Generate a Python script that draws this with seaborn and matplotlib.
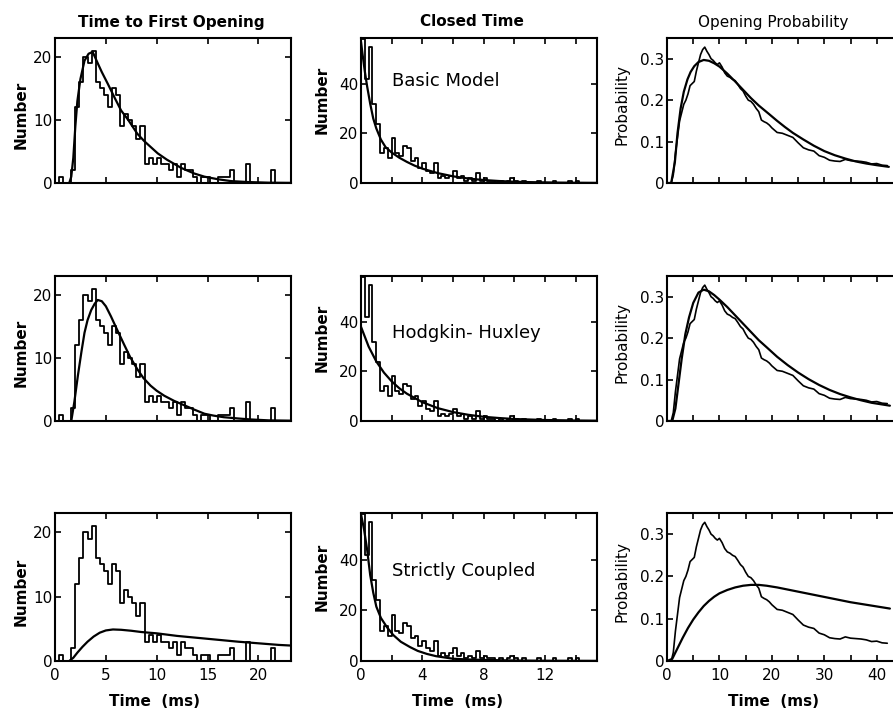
import numpy as np
import pandas as pd
import matplotlib
matplotlib.use("Agg")
import matplotlib.pyplot as plt
from matplotlib.ticker import FixedLocator
import seaborn as sns

# ------------------------------------------------------------------ data
# Time to first opening histogram (bin width 0.4 ms), same data in every row
first_bin_width = 0.4
first_counts = [0, 1, 0, 0, 2, 12, 16, 20, 19, 21, 16, 15, 14, 12, 15, 14, 9, 11,
                10, 9, 7, 9, 3, 4, 3, 4, 3, 3, 2, 3, 1, 3, 2, 2, 1, 0, 1, 1, 0, 0,
                1, 1, 1, 2, 0, 0, 0, 3, 0, 0, 0, 0, 0, 2, 0, 0]

# Closed time histogram (bin width 0.25 ms)
closed_bin_width = 0.25
closed_counts = [58, 42, 55, 32, 24, 12, 14, 10, 18, 12, 11, 15, 14, 9, 10, 6, 8, 5,
                 4, 8, 2, 3, 2, 3, 5, 2, 3, 1, 2, 1, 4, 1, 2, 1, 1, 0, 1, 0, 1, 2,
                 1, 0, 1, 0, 0, 0, 1, 0, 0, 0, 1, 0, 0, 0, 1, 0, 1, 0, 0, 0]

# Opening probability (measured)
prob_t = [0, 0.8, 1.2, 1.6, 2.0, 2.4, 2.8, 3.2, 3.6, 4.0, 4.4, 4.8, 5.2, 5.6, 6.0,
          6.4, 6.8, 7.2, 7.6, 8.0, 8.4, 8.8, 9.2, 9.6, 10.0, 10.5, 11.0, 11.5,
          12.0, 12.5, 13.0, 13.5, 14.0, 14.5, 15.0, 15.5, 16.0, 16.5, 17.0, 17.5,
          18.0, 18.5, 19.0, 19.5, 20.0, 21, 22, 23, 24, 25, 26, 27, 28, 29, 30,
          31, 32, 33, 34, 35, 36, 37, 38, 39, 40, 41, 42]
prob_v = [0, 0, 0.02, 0.07, 0.11, 0.15, 0.17, 0.19, 0.2, 0.215, 0.235, 0.24, 0.245,
          0.27, 0.29, 0.31, 0.322, 0.328, 0.318, 0.31, 0.3, 0.296, 0.29, 0.286,
          0.29, 0.28, 0.266, 0.258, 0.255, 0.25, 0.247, 0.238, 0.228, 0.222, 0.21,
          0.2, 0.197, 0.19, 0.18, 0.172, 0.152, 0.148, 0.145, 0.14, 0.133, 0.122,
          0.12, 0.115, 0.11, 0.097, 0.085, 0.08, 0.077, 0.066, 0.062, 0.055, 0.053,
          0.052, 0.057, 0.054, 0.053, 0.052, 0.05, 0.046, 0.047, 0.043, 0.042]

# Model curves: Basic Model / Hodgkin-Huxley / Strictly Coupled
first_fit_t = {
    "Basic Model": [1.4, 1.6, 1.8, 2.0, 2.2, 2.5, 2.9, 3.3, 3.7, 4.2, 4.6, 5.2, 5.9,
                    6.5, 7.2, 8.1, 8.8, 10.1, 11, 12.4, 13.7, 14.7, 16, 17.3, 19,
                    21, 23.2],
    "Hodgkin- Huxley": [1.6, 1.9, 2.25, 2.6, 2.9, 3.2, 3.56, 3.9, 4.2, 4.6, 5.0,
                        5.5, 6.1, 6.8, 7.4, 8.1, 8.7, 9.4, 10.0, 10.75, 11.7, 12.7,
                        13.7, 14.7, 15.6, 16.6, 18, 19.2, 21, 23.2],
    "Strictly Coupled": [1.4, 1.8, 2.2, 2.7, 3.2, 3.8, 4.4, 5.0, 5.7, 6.5, 7.5, 8.5,
                         10, 12, 14, 16, 18, 20, 22, 23.2],
}
first_fit_v = {
    "Basic Model": [0, 1.0, 4, 9, 13, 16.5, 19.4, 20.5, 20.8, 19, 17.6, 15.7, 13.4,
                    11.5, 10.0, 7.8, 6.6, 4.7, 3.7, 2.4, 1.5, 1.0, 0.6, 0.3, 0.15,
                    0.05, 0.02],
    "Hodgkin- Huxley": [0, 3, 7.2, 11, 14, 16, 17.6, 18.6, 19.2, 19.0, 18.2, 16.6,
                        14.5, 12.1, 10.1, 8.2, 6.8, 5.6, 4.8, 4.0, 3.2, 2.5, 1.8,
                        1.15, 0.85, 0.6, 0.4, 0.25, 0.1, 0.05],
    "Strictly Coupled": [0, 0.5, 1.3, 2.2, 3.0, 3.8, 4.4, 4.75, 4.9, 4.85, 4.7, 4.5,
                         4.3, 3.9, 3.6, 3.3, 3.0, 2.75, 2.5, 2.4],
}

closed_fit_t = {
    "Basic Model": [0, 0.1, 0.25, 0.4, 0.6, 0.8, 1.0, 1.3, 1.6, 2.0, 2.5, 3.0, 3.5,
                    4.0, 5.0, 6.0, 7.0, 8.0, 9, 10, 11, 12, 13, 14, 15.4],
    "Hodgkin- Huxley": [0, 0.25, 0.5, 0.75, 1.0, 1.5, 2.0, 2.5, 3.0, 4.0, 5.0, 6.0,
                        7.0, 8.0, 9, 10, 12, 14, 15.4],
    "Strictly Coupled": [0, 0.2, 0.4, 0.6, 0.8, 1.0, 1.3, 1.7, 2.1, 2.6, 3.2, 3.7,
                         4.3, 4.9, 6.0, 7, 8.2, 10, 12, 15.4],
}
closed_fit_v = {
    "Basic Model": [57, 52, 45, 39, 32, 26, 22, 17.5, 14.5, 12.3, 10.2, 8.5, 7, 5.8,
                    4.0, 2.7, 1.8, 1.2, 0.8, 0.5, 0.35, 0.25, 0.15, 0.1, 0.05],
    "Hodgkin- Huxley": [38, 34, 30, 27, 24, 19.5, 16, 13.2, 11, 7.6, 5.2, 3.6, 2.5,
                        1.7, 1.2, 0.8, 0.4, 0.2, 0.12],
    "Strictly Coupled": [58, 52, 44, 34, 27, 21.5, 17, 13.3, 10.3, 7.6, 5.5, 4.0,
                         2.8, 1.9, 0.9, 0.6, 0.4, 0.2, 0.1, 0.05],
}

prob_fit_t = {
    "Basic Model": [0, 0.8, 1.5, 2.0, 2.6, 3.2, 3.9, 4.5, 5.2, 6.0, 7.0, 8.0, 9.0, 10,
                    11.5, 13, 14.5, 16, 17.5, 19.5, 21, 22.5, 24, 26, 28, 30, 32, 34,
                    36, 38, 40, 42.3],
    "Hodgkin- Huxley": [0, 1.0, 1.6, 2.2, 2.8, 3.5, 4.2, 5.0, 6.0, 7.0, 8.0, 9, 10,
                        11.5, 13, 14.5, 16, 17.5, 19, 21, 23, 25, 27, 29, 31, 33, 35,
                        37, 39, 41, 42.5],
    "Strictly Coupled": [0, 1, 2, 3, 4, 5, 6, 7, 8, 9, 10, 11.5, 13, 14.5, 16, 17.5,
                         19, 21, 23, 25, 27, 29, 31, 33, 35, 37, 39, 41, 42.5],
}
prob_fit_v = {
    "Basic Model": [0, 0, 0.05, 0.12, 0.18, 0.22, 0.25, 0.268, 0.282, 0.292, 0.297,
                    0.295, 0.289, 0.281, 0.264, 0.245, 0.225, 0.205, 0.187, 0.166,
                    0.15, 0.135, 0.121, 0.105, 0.09, 0.077, 0.067, 0.059, 0.052,
                    0.047, 0.043, 0.039],
    "Hodgkin- Huxley": [0, 0, 0.03, 0.09, 0.15, 0.21, 0.25, 0.285, 0.31, 0.317,
                        0.313, 0.304, 0.293, 0.275, 0.255, 0.235, 0.215, 0.195,
                        0.178, 0.155, 0.135, 0.117, 0.101, 0.087, 0.075, 0.065,
                        0.057, 0.05, 0.044, 0.04, 0.037],
    "Strictly Coupled": [0, 0.005, 0.03, 0.055, 0.078, 0.098, 0.115, 0.13, 0.142,
                         0.152, 0.16, 0.168, 0.174, 0.178, 0.18, 0.18, 0.178, 0.174,
                         0.169, 0.164, 0.159, 0.154, 0.149, 0.144, 0.139, 0.135,
                         0.131, 0.127, 0.124],
}

models = ["Basic Model", "Hodgkin- Huxley", "Strictly Coupled"]
col_titles = ["Time to First Opening", "Closed Time", "Opening Probability"]
col_ylabels = ["Number", "Number", "Probability"]
xlabel = "Time  (ms)"

# ------------------------------------------------------------------ style
sns.set_theme(style="ticks")
plt.rcParams["font.family"] = ["DejaVu Sans"]
plt.rcParams["axes.edgecolor"] = "black"
plt.rcParams["axes.linewidth"] = 1.5
plt.rcParams["text.color"] = "black"
plt.rcParams["axes.labelcolor"] = "black"
plt.rcParams["xtick.color"] = "black"
plt.rcParams["ytick.color"] = "black"

W, H = 893, 710
fig = plt.figure(figsize=(W / 100, H / 100), dpi=100)

col_left = [55, 361, 667]
col_w = 236
row_top = [38, 276, 513]
row_h = [145, 145, 148]

first_edges = [i * first_bin_width for i in range(len(first_counts) + 1)]
closed_edges = [i * closed_bin_width for i in range(len(closed_counts) + 1)]
first_df = pd.DataFrame({
    "t": [e + first_bin_width / 2 for e in first_edges[:-1]],
    "n": first_counts,
})
closed_df = pd.DataFrame({
    "t": [e + closed_bin_width / 2 for e in closed_edges[:-1]],
    "n": closed_counts,
})

xlims = [(0, 23.2), (0, 15.4), (0, 45)]
ylims = [(0, 23), (0, 58.5), (0, 0.35)]
xmajor = [[0, 5, 10, 15, 20], [0, 4, 8, 12], [0, 10, 20, 30, 40]]
xminor = [[], [2, 6, 10, 14], [5, 15, 25, 35]]
ymajor = [[0, 10, 20], [0, 20, 40], [0, 0.1, 0.2, 0.3]]
yticklabels = [["0", "10", "20"], ["0", "20", "40"], ["0", "0.1", "0.2", "0.3"]]
ylab_x = [-0.11, -0.135, -0.16]
ylab_y = [0.47, 0.57, 0.54]
xlab_x = [0.42, 0.41, 0.45]

for r, model in enumerate(models):
    for c in range(3):
        ax = fig.add_axes([col_left[c] / W, 1 - (row_top[r] + row_h[r]) / H,
                           col_w / W, row_h[r] / H])
        if c == 0:
            sns.histplot(data=first_df, x="t", weights="n", bins=first_edges,
                         element="step", fill=False, color="black", linewidth=1.3,
                         ax=ax)
            sns.lineplot(x=first_fit_t[model], y=first_fit_v[model], color="black",
                         linewidth=1.6, sort=False, estimator=None, ax=ax)
        elif c == 1:
            sns.histplot(data=closed_df, x="t", weights="n", bins=closed_edges,
                         element="step", fill=False, color="black", linewidth=1.3,
                         ax=ax)
            sns.lineplot(x=closed_fit_t[model], y=closed_fit_v[model], color="black",
                         linewidth=1.6, sort=False, estimator=None, ax=ax)
            ax.text(0.13, 0.61 if r > 0 else 0.70, model, transform=ax.transAxes,
                    fontsize=13, ha="left", va="center", color="black")
        else:
            sns.lineplot(x=prob_t, y=prob_v, color="black", linewidth=1.2,
                         sort=False, estimator=None, ax=ax)
            sns.lineplot(x=prob_fit_t[model], y=prob_fit_v[model], color="black",
                         linewidth=1.6, sort=False, estimator=None, ax=ax)

        ax.set_xlim(*xlims[c])
        ax.set_ylim(*ylims[c])
        ax.xaxis.set_major_locator(FixedLocator(xmajor[c]))
        if xminor[c]:
            ax.xaxis.set_minor_locator(FixedLocator(xminor[c]))
        ax.yaxis.set_major_locator(FixedLocator(ymajor[c]))
        ax.set_yticklabels(yticklabels[c])
        ax.tick_params(which="both", direction="in", top=True, right=True,
                       length=4, width=1.2, labelsize=11, pad=2, colors="black")
        ax.tick_params(axis="x", pad=5)
        if r < 2:
            ax.tick_params(axis="x", labelbottom=False)
            ax.set_xlabel("")
        else:
            ax.set_xlabel(xlabel, fontsize=11, fontweight="bold", color="black")
            ax.xaxis.set_label_coords(xlab_x[c], -0.22)
        ax.set_ylabel(col_ylabels[c], fontsize=11, color="black",
                      fontweight="bold" if c < 2 else "normal")
        ax.yaxis.set_label_coords(ylab_x[c], ylab_y[c])
        for s in ax.spines.values():
            s.set_color("black")
            s.set_linewidth(1.5)
        if r == 0:
            cx = [171, 472, 773][c]
            fig.text(cx / W, 1 - 22 / H, col_titles[c], ha="center", va="center",
                     fontsize=11, color="black",
                     fontweight="bold" if c < 2 else "normal")

fig.savefig("out.png", dpi=100, facecolor="white")
